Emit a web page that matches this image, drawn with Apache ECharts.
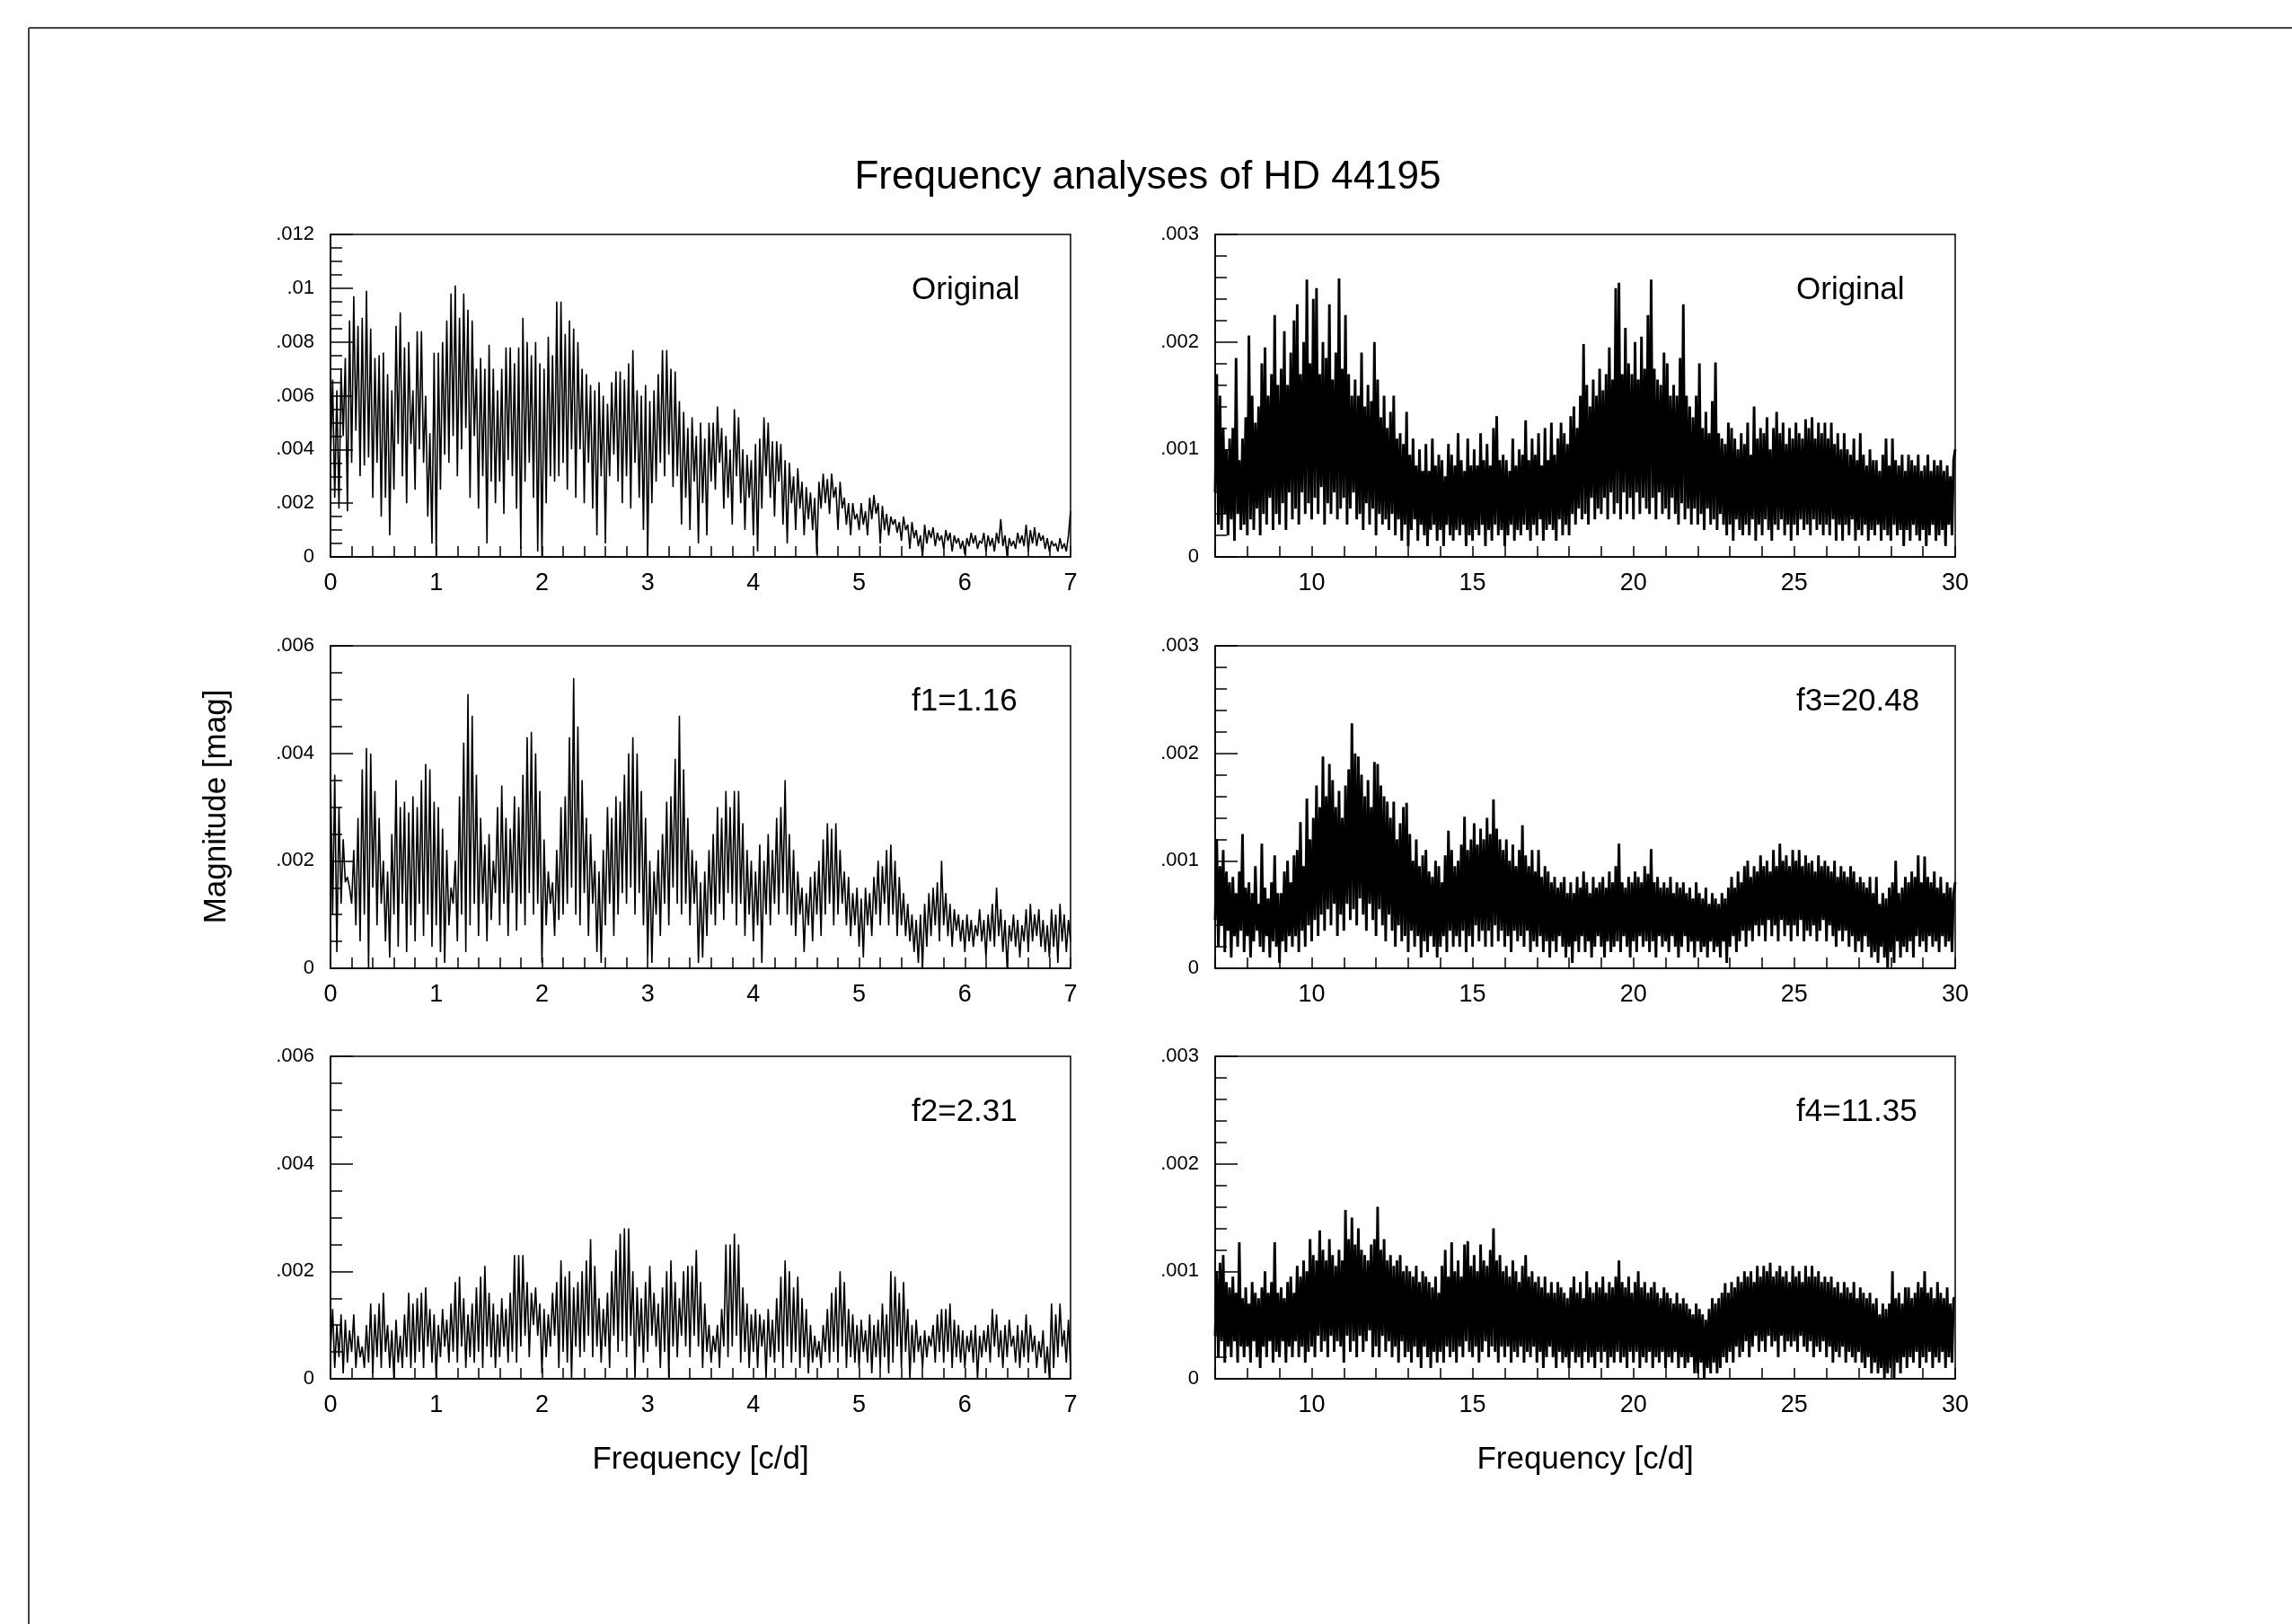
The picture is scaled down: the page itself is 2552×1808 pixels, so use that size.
<!DOCTYPE html>
<html>
<head>
<meta charset="utf-8">
<title>Frequency analyses of HD 44195</title>
<script src="https://cdn.jsdelivr.net/npm/echarts@6/dist/echarts.min.js"></script>
<style>
  html, body { margin: 0; padding: 0; background: #fff; }
  #chart { width: 2552px; height: 1808px; }
</style>
</head>
<body>
<div id="chart"></div>
<script>
// low frequency panels: 0..7 c/d, step 0.02, values in 1e-4 mag
const LOW_X0 = 0, LOW_STEP = 0.02;
// high frequency panels: 7..30 c/d, step 0.05, values in 1e-5 mag
const HIGH_X0 = 7, HIGH_STEP = 0.05;

const origLow = [
  36,66,22,62,18,70,45,74,17,88,
  35,97,47,86,30,89,34,99,37,85,
  22,74,35,75,15,76,22,68,8,62,
  25,86,42,91,30,78,20,80,42,62,
  25,84,40,84,35,60,15,46,5,76,
  0,76,25,80,38,88,35,98,45,101,
  30,89,40,98,48,92,22,88,45,70,
  18,74,30,70,5,79,28,70,20,62,
  28,70,16,78,36,78,30,72,18,78,
  3,89,28,80,35,75,22,80,2,72,
  0,70,20,82,30,75,28,95,30,95,
  35,83,25,88,40,85,22,80,40,70,
  20,68,35,64,18,62,8,65,30,60,
  5,57,30,65,38,69,28,69,20,66,
  30,72,18,77,35,62,22,60,10,64,
  0,58,20,62,28,68,35,77,30,77,
  38,70,26,69,30,58,12,54,22,48,
  10,52,28,45,5,50,20,44,8,50,
  28,50,25,56,35,48,18,45,22,40,
  12,55,30,52,20,40,10,38,22,36,
  8,42,2,44,18,52,30,50,22,43,
  15,43,28,42,12,36,5,35,20,30,
  10,33,18,28,8,26,14,24,10,22,
  1,28,18,31,20,29,16,31,22,26,
  10,28,18,22,12,20,8,20,14,16,
  10,20,12,17,8,22,14,23,16,20,
  5,19,10,16,8,15,12,14,9,13,
  6,15,10,12,3,13,7,10,4,8,
  0,12,5,10,7,11,4,9,6,8,
  3,10,6,9,2,8,5,7,3,6,
  1,7,4,9,5,8,3,6,5,9,
  2,8,4,7,2,9,5,14,4,8,
  0,7,4,6,3,9,5,8,4,12,
  2,10,5,11,4,9,6,8,3,7,
  2,6,4,5,2,7,3,5,2,8,
  17
];

const f1Low = [
  37,10,36,3,30,12,24,16,17,15,
  12,22,8,28,5,37,10,41,0,40,
  15,33,8,28,12,20,5,18,2,25,
  10,35,4,30,12,31,3,29,8,32,
  5,30,12,35,6,38,10,37,4,31,
  8,30,3,26,1,22,8,15,12,20,
  5,32,10,42,3,51,8,47,12,36,
  6,28,12,23,5,25,9,20,14,30,
  8,34,12,28,6,26,14,32,7,30,
  12,36,8,43,14,44,10,40,12,33,
  1,24,8,18,12,16,6,22,9,30,
  10,32,12,43,15,54,10,45,8,35,
  14,28,6,25,12,20,3,18,1,22,
  8,30,12,28,6,32,10,31,14,36,
  12,40,15,43,10,40,14,33,8,28,
  2,20,1,18,10,22,6,25,12,31,
  8,32,15,39,12,47,10,37,12,28,
  8,22,12,20,1,16,2,18,6,22,
  10,25,8,30,12,28,9,33,14,30,
  12,33,8,33,12,27,6,22,10,20,
  5,18,8,23,1,20,10,25,8,22,
  12,28,10,30,14,35,10,25,8,22,
  6,18,10,15,3,14,8,17,5,18,
  10,20,6,24,10,27,12,26,8,27,
  10,22,12,18,8,17,6,14,8,15,
  4,13,2,15,8,14,6,17,10,20,
  8,19,12,22,8,23,10,20,6,17,
  8,14,6,12,5,10,3,9,1,10,
  0,12,4,14,6,15,8,16,5,20,
  8,14,6,12,4,11,7,10,5,9,
  3,10,5,9,4,8,6,11,5,9,
  2,10,5,12,4,15,6,11,3,9,
  0,8,5,10,4,9,2,8,5,11,
  3,12,5,10,6,11,4,9,3,8,
  2,11,4,10,1,12,5,10,3,9,
  5
];

const f2Low = [
  5,13,2,10,4,12,1,11,3,9,
  5,12,2,8,4,6,2,10,3,14,
  1,12,4,14,2,16,5,10,2,9,
  0,11,3,8,2,12,4,16,2,14,
  3,15,5,16,2,17,6,13,3,12,
  0,10,4,13,6,11,3,14,5,18,
  3,19,6,15,2,12,4,14,3,17,
  5,19,2,21,6,16,4,14,2,12,
  4,15,6,13,3,16,5,23,3,23,
  6,23,8,18,4,16,10,17,8,14,
  1,13,4,12,6,16,8,18,2,22,
  5,19,3,20,0,17,6,18,4,20,
  5,22,8,26,4,21,6,15,3,13,
  6,16,2,20,8,24,5,27,7,28,
  4,28,8,20,0,17,6,15,3,18,
  5,21,8,16,6,14,2,17,5,20,
  0,22,6,18,4,15,8,20,6,21,
  4,21,8,24,6,18,2,14,5,10,
  3,8,5,10,2,13,6,25,4,25,
  6,27,8,25,3,17,5,14,2,12,
  5,13,2,12,6,11,0,13,4,11,
  3,15,5,19,2,22,6,20,3,17,
  5,19,2,15,4,13,1,10,3,8,
  4,7,2,10,5,13,3,16,5,17,
  3,20,6,18,2,13,4,12,3,10,
  2,11,5,9,3,12,1,10,4,11,
  2,14,4,12,1,20,3,19,6,16,
  2,18,5,13,0,10,3,11,5,8,
  2,9,4,8,6,10,3,12,5,13,
  3,13,5,14,2,11,4,10,3,9,
  2,8,5,9,3,10,0,8,4,9,
  5,10,3,13,6,12,4,9,2,10,
  4,11,6,8,3,10,2,9,4,12,
  3,10,5,8,2,7,4,9,1,6,
  0,14,2,12,4,14,6,9,3,11,
  2
];

const origHigh = [
  60,170,30,150,25,120,40,100,20,110,
  35,120,15,185,40,90,25,110,30,130,
  20,206,35,150,25,125,45,140,20,180,
  40,195,30,150,55,170,25,225,40,160,
  30,175,50,210,25,160,60,190,35,220,
  45,235,30,170,60,200,40,258,50,180,
  35,240,55,250,40,170,65,200,30,185,
  50,235,40,165,60,190,35,259,45,175,
  55,225,30,170,45,150,60,165,35,150,
  40,190,25,140,50,160,30,145,45,200,
  20,165,40,130,30,150,35,120,25,135,
  40,150,20,110,35,115,15,105,30,135,
  10,95,25,110,35,85,15,100,30,80,
  20,105,10,80,25,110,30,85,15,95,
  25,90,10,75,30,105,20,95,15,85,
  25,115,20,90,30,80,10,110,20,85,
  15,100,25,85,20,115,30,90,10,105,
  25,85,15,120,30,131,20,90,25,95,
  10,90,20,80,30,110,15,85,25,100,
  20,95,30,127,25,90,15,110,30,95,
  20,115,35,85,15,120,25,90,30,125,
  25,95,15,110,35,125,20,115,30,105,
  20,131,40,140,30,120,45,150,35,198,
  40,160,30,140,55,165,35,150,45,175,
  40,155,55,170,35,195,60,165,40,250,
  50,255,35,170,60,213,40,180,55,170,
  35,200,60,165,40,205,55,175,45,225,
  40,258,55,175,35,165,60,160,40,190,
  45,180,35,150,55,160,40,150,30,185,
  50,235,35,150,45,140,30,130,45,150,
  30,180,40,120,25,135,45,115,30,145,
  35,181,25,115,40,110,30,105,20,125,
  30,120,15,110,35,100,25,115,20,105,
  30,125,20,95,35,140,15,110,30,120,
  20,115,35,130,25,100,15,120,30,135,
  25,115,35,125,20,105,30,120,15,110,
  30,125,20,115,35,110,25,128,30,120,
  20,130,35,110,25,125,30,115,20,125,
  30,110,20,125,35,105,15,115,30,100,
  15,115,30,100,20,95,35,110,15,90,
  25,115,20,95,30,85,15,100,25,90,
  20,90,30,80,15,95,25,110,20,85,
  15,110,30,90,20,85,25,95,10,80,
  25,95,15,90,30,85,20,95,15,80,
  25,85,10,95,20,80,30,90,15,85,
  20,90,25,80,10,85,30,75,20,90,
  100
];

const f3High = [
  45,120,20,95,40,110,15,90,35,80,
  10,85,30,70,20,90,35,125,15,75,
  30,80,10,70,25,95,35,60,20,116,
  15,75,30,65,10,80,25,105,20,70,
  5,70,25,90,15,100,30,80,20,105,
  30,110,15,136,35,95,20,158,40,120,
  25,140,45,170,30,150,50,197,35,160,
  55,190,40,175,60,150,30,165,50,140,
  35,170,60,185,45,228,55,200,40,197,
  65,180,50,160,35,175,60,150,45,192,
  30,190,55,170,40,160,25,155,50,140,
  35,155,20,120,40,135,25,150,30,154,
  15,125,35,100,20,120,30,95,10,105,
  25,110,15,90,30,85,20,100,10,95,
  20,80,30,105,15,128,35,110,20,95,
  30,100,20,115,35,141,15,110,30,120,
  20,135,40,115,25,130,35,120,20,140,
  35,125,20,157,40,130,25,120,35,110,
  20,120,30,100,15,115,35,95,25,110,
  30,133,20,105,35,95,15,110,25,90,
  20,110,30,85,15,95,25,90,10,80,
  25,85,15,75,30,80,20,85,10,70,
  20,80,5,70,25,85,15,75,30,90,
  15,80,25,70,10,85,20,75,30,80,
  20,85,10,75,25,90,15,80,20,95,
  25,116,15,80,30,75,20,85,10,80,
  25,90,15,85,30,80,20,95,25,88,
  15,111,25,80,10,85,30,75,20,80,
  25,75,15,85,30,70,20,80,10,75,
  20,80,30,70,15,75,25,65,10,80,
  25,70,15,65,20,75,10,60,25,70,
  15,65,20,60,10,70,25,65,5,75,
  20,85,30,75,15,90,25,80,35,95,
  20,100,35,85,25,95,40,90,30,105,
  40,95,25,100,45,90,30,110,40,95,
  25,116,45,100,30,105,40,95,25,110,
  40,100,30,110,45,95,25,105,35,98,
  30,100,40,90,25,105,35,95,45,100,
  25,95,40,90,30,100,20,85,35,95,
  25,90,35,85,20,95,30,90,15,80,
  25,85,15,80,30,75,20,85,10,70,
  15,85,5,60,20,70,10,65,0,75,
  15,80,5,100,25,70,10,75,20,85,
  15,80,25,90,10,85,30,105,20,80,
  25,104,15,85,30,80,20,90,25,75,
  15,85,30,70,20,80,25,75,15,70,
  80
];

const f4High = [
  40,100,20,108,35,115,15,90,30,85,
  20,95,35,80,15,127,30,75,20,85,
  30,70,15,90,35,80,20,75,10,85,
  30,100,20,80,35,90,15,127,25,80,
  20,85,35,75,15,90,30,95,20,80,
  35,105,20,95,30,110,15,100,25,130,
  30,115,20,110,40,138,25,120,35,110,
  20,130,40,115,25,105,35,120,30,110,
  15,157,40,130,25,150,35,125,20,140,
  40,120,25,115,35,110,45,125,20,130,
  30,160,20,120,40,130,25,110,35,115,
  20,105,30,110,15,115,35,100,20,105,
  25,100,15,95,30,105,20,90,10,100,
  30,95,20,90,10,85,25,95,15,80,
  25,105,15,120,30,95,20,127,25,100,
  15,110,30,95,20,125,35,128,25,105,
  20,115,30,100,15,125,25,110,35,105,
  20,120,30,140,25,110,15,115,30,100,
  20,105,30,95,15,110,25,100,20,90,
  30,105,15,115,25,95,20,100,30,90,
  15,95,25,85,10,95,20,80,30,90,
  20,80,10,90,25,85,15,80,20,75,
  10,85,25,95,15,80,20,90,10,75,
  25,100,15,85,20,80,10,90,25,85,
  15,95,25,80,10,90,20,85,15,95,
  25,110,15,90,20,85,10,95,25,80,
  15,90,25,100,10,85,20,90,15,80,
  25,85,10,90,20,80,15,75,25,85,
  10,80,20,75,15,70,25,80,10,70,
  20,75,10,70,15,65,20,60,5,70,
  5,65,15,60,0,55,10,65,5,75,
  15,70,5,75,10,80,20,89,15,80,
  25,90,15,85,30,95,20,90,25,100,
  35,95,20,100,30,90,40,105,25,95,
  35,105,25,100,40,108,30,95,35,100,
  20,105,40,95,25,100,35,90,30,105,
  35,95,25,100,40,90,30,105,25,95,
  35,105,20,95,30,100,25,90,35,95,
  20,90,30,95,15,85,25,90,20,80,
  30,90,15,85,25,80,20,90,15,75,
  25,85,15,80,10,75,20,80,5,70,
  15,75,5,60,10,70,0,65,5,70,
  10,100,0,75,15,80,5,70,20,85,
  10,85,20,75,15,80,25,90,10,85,
  20,100,15,80,25,85,10,75,20,90,
  15,80,25,75,10,85,20,70,15,75,
  75
];

const panelLabels = ['Original', 'f1=1.16', 'f2=2.31', 'Original', 'f3=20.48', 'f4=11.35'];

const FONT = '"Liberation Sans", Arial, Helvetica, sans-serif';
const colLeft = [368, 1353];
const rowTop = [261, 719, 1176];
const W = 824, H = 359;

const toPairs = (vals, x0, step, unit) =>
  vals.map((v, i) => [+(x0 + i * step).toFixed(3), v * unit]);

const panels = [
  {col: 0, row: 0, data: toPairs(origLow, LOW_X0, LOW_STEP, 1e-4), ymax: 0.012, yint: 0.002, ysplit: 4},
  {col: 0, row: 1, data: toPairs(f1Low, LOW_X0, LOW_STEP, 1e-4), ymax: 0.006, yint: 0.002, ysplit: 4},
  {col: 0, row: 2, data: toPairs(f2Low, LOW_X0, LOW_STEP, 1e-4), ymax: 0.006, yint: 0.002, ysplit: 4},
  {col: 1, row: 0, data: toPairs(origHigh, HIGH_X0, HIGH_STEP, 1e-5), ymax: 0.003, yint: 0.001, ysplit: 5},
  {col: 1, row: 1, data: toPairs(f3High, HIGH_X0, HIGH_STEP, 1e-5), ymax: 0.003, yint: 0.001, ysplit: 5},
  {col: 1, row: 2, data: toPairs(f4High, HIGH_X0, HIGH_STEP, 1e-5), ymax: 0.003, yint: 0.001, ysplit: 5}
];

const yFmt = v => v === 0 ? '0' : v.toFixed(3).replace(/0+$/, '').replace(/^0/, '');

const grids = [], xAxes = [], yAxes = [], series = [];
panels.forEach((p, i) => {
  grids.push({
    left: colLeft[p.col], top: rowTop[p.row], width: W, height: H,
    show: true, borderColor: '#000', borderWidth: 1.5, backgroundColor: 'transparent'
  });
  const low = p.col === 0;
  xAxes.push({
    type: 'value', gridIndex: i,
    min: low ? 0 : 7, max: low ? 7 : 30, interval: 1,
    axisLine: {onZero: false, lineStyle: {color: '#000', width: 1.5}},
    axisTick: {inside: true, length: 12, lineStyle: {color: '#000', width: 1.5}},
    minorTick: {show: low, splitNumber: 5, length: 12, lineStyle: {color: '#000', width: 1.5}},
    splitLine: {show: false},
    axisLabel: {
      margin: 16, color: '#000', fontSize: 27, fontFamily: FONT,
      formatter: v => low ? String(v) : (v % 5 === 0 ? String(v) : '')
    }
  });
  yAxes.push({
    type: 'value', gridIndex: i,
    min: 0, max: p.ymax, interval: p.yint,
    axisLine: {onZero: false, lineStyle: {color: '#000', width: 1.5}},
    axisTick: {inside: true, length: 25, lineStyle: {color: '#000', width: 1.5}},
    minorTick: {show: true, splitNumber: p.ysplit, length: 13, lineStyle: {color: '#000', width: 1.5}},
    splitLine: {show: false},
    axisLabel: {margin: 18, color: '#000', fontSize: 22, fontFamily: FONT, formatter: yFmt}
  });
  series.push({
    type: 'line', xAxisIndex: i, yAxisIndex: i,
    data: p.data, showSymbol: false, symbol: 'none',
    lineStyle: {color: '#000', width: low ? 1.6 : 2.9},
    silent: true, animation: false
  });
});

const text = (str, x, y, size, align, rot) => ({
  type: 'text', x: x, y: y, rotation: rot || 0, silent: true,
  style: {
    text: str, font: size + 'px ' + FONT, fill: '#000',
    align: align, textAlign: align, verticalAlign: 'middle', textVerticalAlign: 'middle'
  }
});

const graphics = [
  {type: 'line', silent: true, shape: {x1: 32, y1: 31, x2: 2552, y2: 31}, style: {stroke: '#444', lineWidth: 2}},
  {type: 'line', silent: true, shape: {x1: 32, y1: 31, x2: 32, y2: 1808}, style: {stroke: '#444', lineWidth: 2}},
  text('Frequency analyses of HD 44195', 1278, 198, 44, 'center'),
  text('Frequency [c/d]', colLeft[0] + W / 2, 1625, 35, 'center'),
  text('Frequency [c/d]', colLeft[1] + W / 2, 1625, 35, 'center'),
  text('Magnitude [mag]', 241, 898, 35, 'center', Math.PI / 2)
];
panels.forEach((p, i) => {
  graphics.push(text(panelLabels[i], colLeft[p.col] + 647, rowTop[p.row] + 62, 35, 'left'));
});

const chart = echarts.init(document.getElementById('chart'), null, {renderer: 'canvas'});
chart.setOption({
  backgroundColor: '#fff',
  animation: false,
  grid: grids,
  xAxis: xAxes,
  yAxis: yAxes,
  series: series,
  graphic: graphics
});
</script>
</body>
</html>
